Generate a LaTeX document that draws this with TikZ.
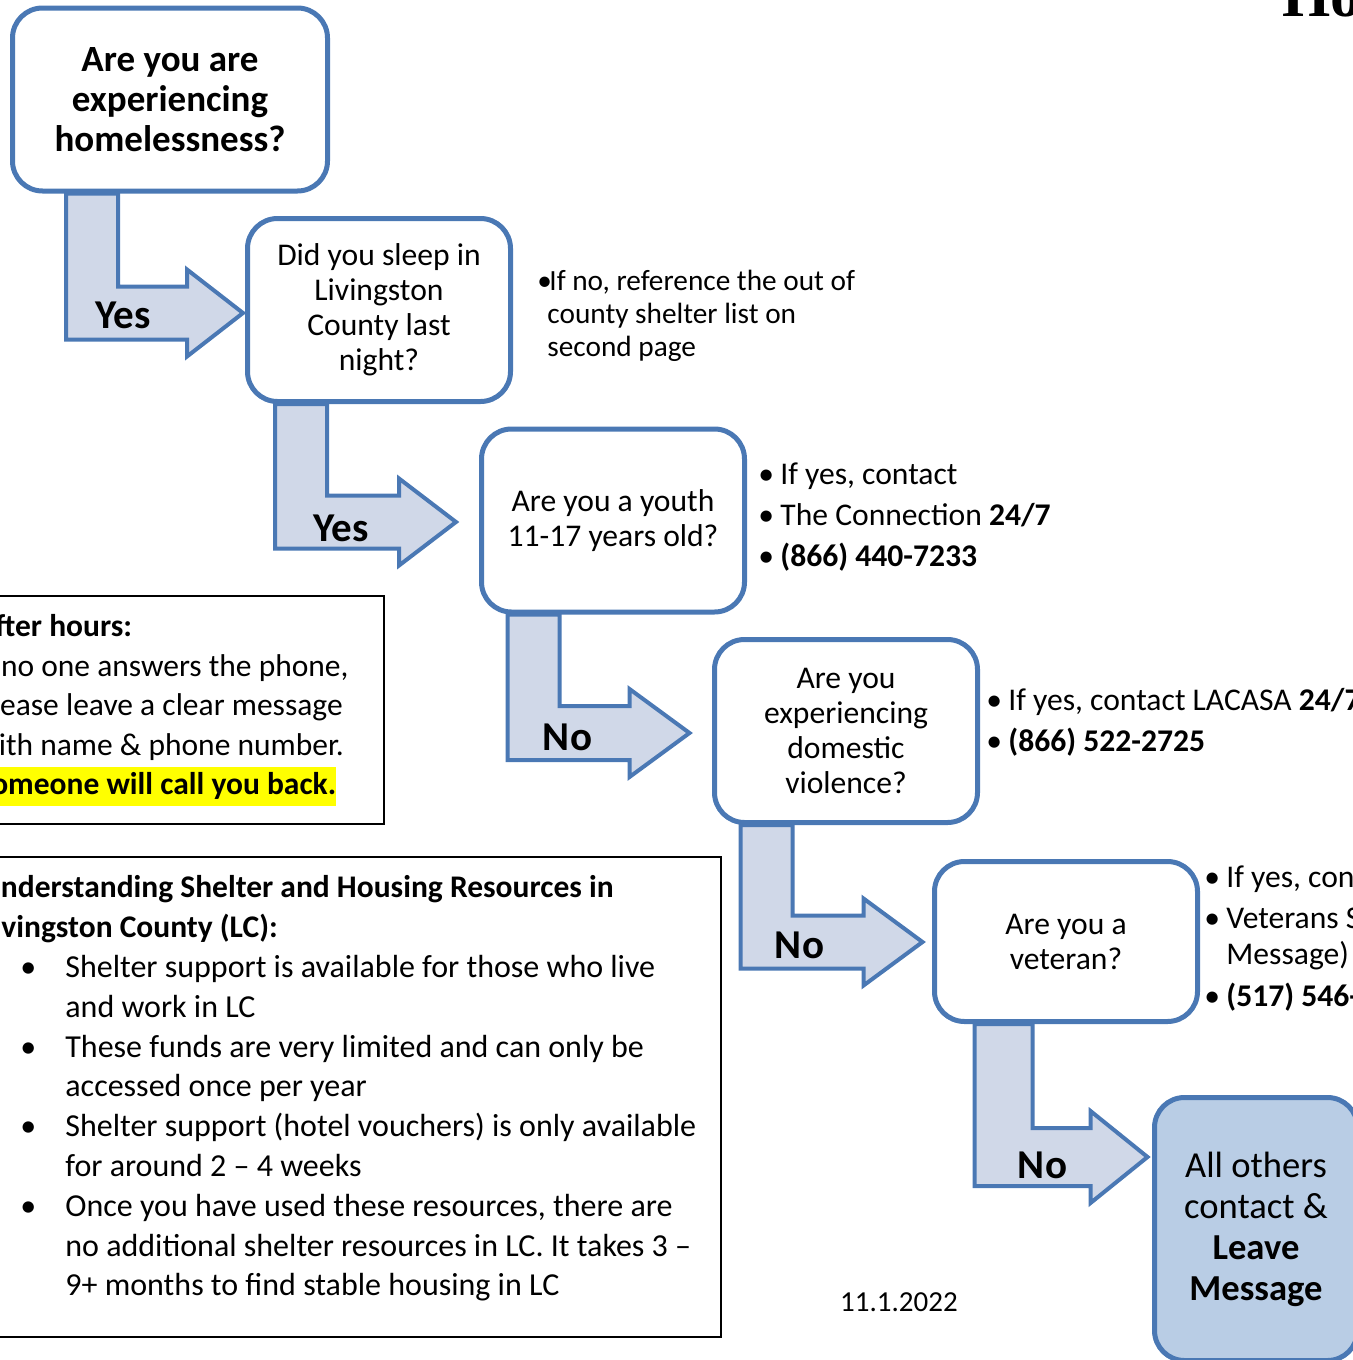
\documentclass[tikz,border=0pt]{standalone}
\usepackage{fontspec}
\setmainfont{Carlito}
\newfontfamily\titlefont{Liberation Serif}
\usepackage{xcolor}
\usetikzlibrary{calc,backgrounds}
\definecolor{shelterBlue}{RGB}{74,120,180}
\definecolor{shelterArrow}{RGB}{208,216,232}
\definecolor{shelterFinal}{RGB}{185,205,229}
\definecolor{shelterMark}{RGB}{255,255,0}
\newcommand{\bul}{\makebox[11pt][l]{\textbullet}}
\newcommand{\listbul}{\hspace*{20pt}\makebox[22.5pt][l]{\textbullet}}
\newcommand{\listcont}{\hspace*{42.5pt}}
\newcommand{\hilite}[1]{{\setlength{\fboxsep}{0pt}\colorbox{shelterMark}{\strut#1}}}

\begin{document}
\begin{tikzpicture}[
  x=0.5pt, y=-0.5pt,
  question/.style={rectangle,rounded corners=15pt,draw=shelterBlue,line width=2.5pt,
                   fill=white,align=center,inner sep=0pt,
                   minimum width=131.5pt,minimum height=91.5pt,
                   font=\fontsize{15.8}{17.5}\selectfont},
  flowarrow/.style={draw=shelterBlue,line width=2pt,fill=shelterArrow},
  arrowlabel/.style={inner sep=0pt,font=\bfseries\fontsize{20.5}{22}\selectfont},
  sidenote/.style={align=left,anchor=west,inner sep=0pt,
                   font=\fontsize{15.8}{18}\selectfont},
  infobox/.style={rectangle,draw=black,line width=0.75pt,inner sep=0pt},
  infotext/.style={align=left,anchor=west,inner sep=0pt,
                   font=\fontsize{15.75}{19.7}\selectfont}
]
\useasboundingbox (0,0) rectangle (1353,1360);
\clip (0,0) rectangle (1353,1360);

% heading fragment
\node[anchor=base west,inner sep=0pt,font=\titlefont\bfseries\fontsize{31}{31}\selectfont]
  (heading) at (1282,17) {Ho};

% questions
\node[question,minimum width=157.5pt,font=\bfseries\fontsize{18.5}{20}\selectfont]
  (q1) at (170,99.5) {Are you are\\experiencing\\homelessness?};
\node[question] (q2) at (379,310) {Did you sleep in\\Livingston\\County last\\night?};
\node[question] (q3) at (613,520.5) {Are you a youth\\11-17 years old?};
\node[question] (q4) at (846,731) {Are you\\experiencing\\domestic\\violence?};
\node[question,minimum height=80pt] (q5) at (1066,941.5) {Are you a\\veteran?};
\node[question,fill=shelterFinal,minimum width=101.5pt,minimum height=131.5pt,
      font=\fontsize{18.3}{20.5}\selectfont]
  (others) at (1256,1229) {All others\\contact \&\\\textbf{Leave}\\\textbf{Message}};

% arrow tips
\coordinate (t1) at ($(q2.west)+(-2,3)$);
\coordinate (t2) at ($(q3.west)+(-23,1.5)$);
\coordinate (t3) at ($(q4.west)+(-22.5,2)$);
\coordinate (t4) at ($(q5.west)+(-9.5,0.5)$);
\coordinate (t5) at ($(others.west)+(-4.5,-72)$);

% side notes
\node[sidenote,font=\fontsize{14.65}{16.5}\selectfont] (note1) at (537,315.5)
  {\makebox[6pt][l]{\textbullet}If no, reference the out of\\
   \hspace*{5pt}county shelter list on\\
   \hspace*{5pt}second page};
\node[sidenote] (note2) at (758,517.5)
  {\bul If yes, contact\\[2.5pt]
   \bul The Connection \textbf{24/7}\\[2.5pt]
   \bul\textbf{(866) 440-7233}};
\node[sidenote] (note3) at (986,722.5)
  {\bul If yes, contact LACASA \textbf{24/7}\\[2.5pt]
   \bul\textbf{(866) 522-2725}};
\node[sidenote] (note4) at (1204,939)
  {\bul If yes, contact\\[2.5pt]
   \bul Veterans Services (Leave\\
   \hspace*{11pt}Message)\\[3pt]
   \bul\textbf{(517) 546-}};

% after hours box
\node[infobox,minimum width=214pt,minimum height=114pt] (hoursbox) at (170,710) {};
\node[infotext] (hours) at (-24,710.5)
  {\textbf{After hours:}\\
   If no one answers the phone,\\
   please leave a clear message\\
   with name \& phone number.\\
   \hilite{\textbf{Someone will call you back.}}};

% resources box
\node[infobox,minimum width=380.5pt,minimum height=240pt] (infobox) at (340.5,1097) {};
\node[infotext,font=\fontsize{16}{19.9}\selectfont] (info) at (-20,1088.5)
  {{\fontsize{15.75}{19.9}\selectfont\textbf{Understanding Shelter and Housing Resources in}}\\
   {\fontsize{15.75}{19.9}\selectfont\textbf{Livingston County (LC):}}\\
   \listbul Shelter support is available for those who live\\
   \listcont and work in LC\\
   \listbul These funds are very limited and can only be\\
   \listcont accessed once per year\\
   \listbul Shelter support (hotel vouchers) is only available\\
   \listcont for around 2 -- 4 weeks\\
   \listbul Once you have used these resources, there are\\
   \listcont no additional shelter resources in LC. It takes 3 --\\
   \listcont 9+ months to find stable housing in LC};

\node[font=\fontsize{14.5}{16}\selectfont] (date) at (899,1302) {11.1.2022};

% bent arrows
\begin{scope}[on background layer]
\foreach \src/\tip/\r/\s/\b/\h/\lab/\lx/\ly in {%
    q1/t1/177/52/26.5/56/Yes/-120/2,
    q2/t2/181/52/26.5/57/Yes/-115/6,
    q3/t3/182/52/27/60/No/-122/4,
    q4/t4/182/52/26.5/59/No/-123/3,
    q5/t5/173/58/29/57/No/-105/8} {
  \path (\tip) ++(-\r,0) coordinate (sl);
  \draw[flowarrow] (sl |- \src.south) -- ++(\s,0)
    -- ($(\tip)+(-\r+\s,-\b)$) -- ($(\tip)+(-\h,-\b)$)
    -- ($(\tip)+(-\h,-\b-17)$) -- (\tip)
    -- ($(\tip)+(-\h,\b+17)$) -- ($(\tip)+(-\h,\b)$)
    -- ($(\tip)+(-\r,\b)$) -- cycle;
  \node[arrowlabel] (\src-label) at ($(\tip)+(\lx,\ly)$) {\lab};
}
\end{scope}
\end{tikzpicture}
\end{document}
